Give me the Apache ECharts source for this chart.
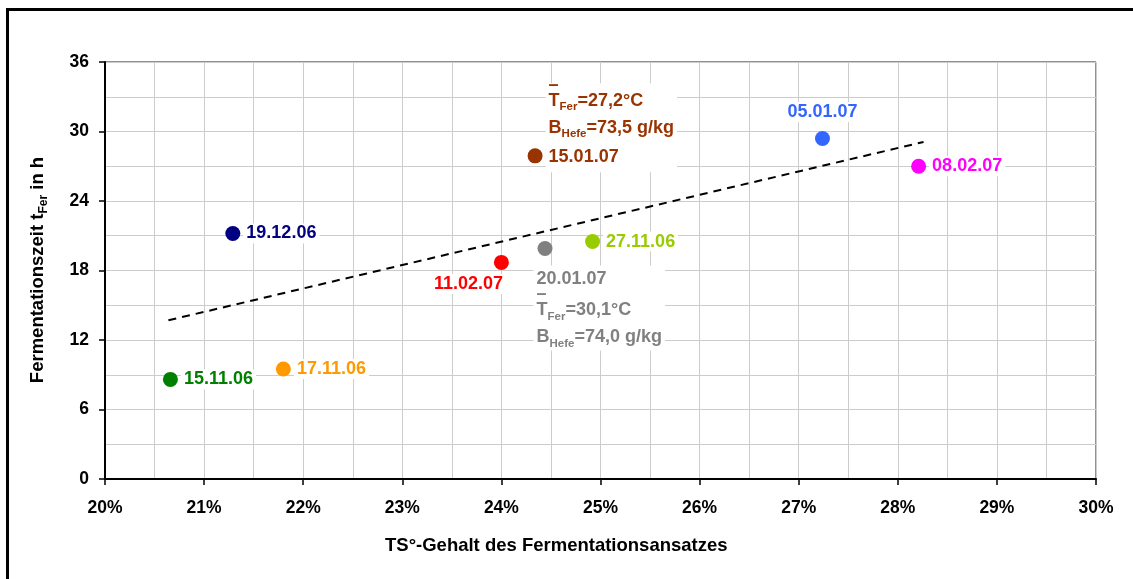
<!DOCTYPE html>
<html>
<head>
<meta charset="UTF-8" />
<title>Fermentationszeit</title>
<style type="text/css">
body,html{margin:0;padding:0;border:0;width:100%;height:100%;overflow:hidden;background:#fff;}
</style>
<script src="https://cdn.jsdelivr.net/npm/echarts@6/dist/echarts.min.js"></script>
</head>
<body>
<div id="chartContainer" style="width:1133px;height:579px;"></div>
<script type="text/javascript">
// Versuchsdatum, TS-Gehalt (%), Fermentationszeit (h)
var dates  = ['15.11.06','17.11.06','19.12.06','11.02.07','20.01.07','27.11.06','15.01.07','05.01.07','08.02.07'];
var tsVals = [20.66, 21.80, 21.29, 24.00, 24.44, 24.92, 24.34, 27.24, 28.21];
var tFer   = [8.6, 9.5, 21.2, 18.7, 19.9, 20.5, 27.9, 29.4, 27.0];
var colors = ['#008000','#FF9900','#000080','#FF0000','#808080','#99CC00','#993300','#3366FF','#FF00FF'];
// Zusatzangaben fuer zwei Versuche: mittlere Temperatur, Hefemenge
var noteDates = ['15.01.07','20.01.07'];
var noteTemp  = ['27,2','30,1'];
var noteHefe  = ['73,5','74,0'];
// lineare Trendlinie (Endpunkte)
var trendX = [20.64, 28.26];
var trendY = [13.7, 29.1];
var xTicks = [20, 30, 1];
var yTicks = [0, 36, 6];

var FONT = 'Liberation Sans';

var richStyles = function(c){
    return {
        a:  {color:c, fontSize:18, fontWeight:'bold', fontFamily:FONT, lineHeight:27},
        d:  {color:c, fontSize:18, fontWeight:'bold', fontFamily:FONT, lineHeight:31},
        s:  {color:c, fontSize:11.5, fontWeight:'bold', fontFamily:FONT, lineHeight:27, verticalAlign:'bottom', padding:[0,0,1,0]},
        // Querstrich ueber dem T (Mittelwert)
        ov: {color:c, fontSize:18, fontWeight:'bold', fontFamily:FONT, lineHeight:4}
    };
};

function noteText(i){
    return '{ov|\u2013}\n{a|T}{s|Fer}{a|=' + noteTemp[i] + '\u00B0C}\n{a|B}{s|Hefe}{a|=' + noteHefe[i] + ' g/kg}';
}

function labelFor(d, c){
    var base = {show:true, color:c, fontSize:18, fontWeight:'bold', fontFamily:FONT,
                backgroundColor:'#fff', padding:[1,3], formatter:d};
    var ni = noteDates.indexOf(d);
    if(d == '05.01.07'){ base.position = 'top'; base.distance = 9; }
    else if(d == '11.02.07'){ base.position = [-63, 19]; base.align = 'left'; base.verticalAlign = 'top'; }
    else if(ni == 1){
        base.position = [-4, 24.5]; base.align = 'left'; base.verticalAlign = 'top';
        base.formatter = '{a|' + d + '}\n' + noteText(ni);
        base.rich = richStyles(c); base.padding = [0,3];
    }
    else if(ni == 0){
        base.position = [18, 24]; base.align = 'left'; base.verticalAlign = 'bottom';
        base.formatter = noteText(ni) + '\n{d|' + d + '}';
        base.rich = richStyles(c); base.padding = [0,3];
    }
    else { base.position = 'right'; base.distance = 3; }
    return base;
}

var points = [];
for(var i = 0; i < dates.length; i++){
    points.push({
        value: [tsVals[i], tFer[i]],
        itemStyle: {color: colors[i], opacity: 1},
        label: labelFor(dates[i], colors[i])
    });
}

var axisText = {color:'#000', fontSize:17.5, fontWeight:'bold', fontFamily:FONT};

var option = {
    animation: false,
    backgroundColor: '#fff',
    grid: {left:105, right:37, top:62, bottom:100, show:true, borderColor:'#222', borderWidth:1},
    xAxis: {
        type:'value', min:xTicks[0], max:xTicks[1], interval:xTicks[2],
        axisLine:{show:true, onZero:false, lineStyle:{color:'#000', width:2}},
        axisTick:{show:true, length:6, inside:false, lineStyle:{color:'#000', width:1.5}},
        axisLabel:Object.assign({margin:20, formatter:function(v){ return v + '%'; }}, axisText),
        splitLine:{show:true, lineStyle:{color:'#cccccc', width:1}},
        minorTick:{show:false, splitNumber:2},
        minorSplitLine:{show:true, lineStyle:{color:'#cccccc', width:1}}
    },
    yAxis: {
        type:'value', min:yTicks[0], max:yTicks[1], interval:yTicks[2],
        axisLine:{show:true, onZero:false, lineStyle:{color:'#000', width:2}},
        axisTick:{show:true, length:6, inside:false, lineStyle:{color:'#000', width:1.5}},
        axisLabel:Object.assign({margin:16}, axisText),
        splitLine:{show:true, lineStyle:{color:'#cccccc', width:1}},
        minorTick:{show:false, splitNumber:2},
        minorSplitLine:{show:true, lineStyle:{color:'#cccccc', width:1}}
    },
    graphic: [
        {type:'rect', shape:{x:7.5, y:9.5, width:1140, height:600}, style:{fill:'none', stroke:'#000', lineWidth:3}, z:-1},
        {type:'text', left:385, top:536, style:{text:'TS\u00B0-Gehalt des Fermentationsansatzes', fill:'#000',
            font:'bold 18.5px "Liberation Sans"'}},
        {type:'text', x:38, y:270, rotation:Math.PI/2, style:{
            text:'{a|Fermentationszeit t}{s|Fer}{a| in h}', align:'center', verticalAlign:'middle',
            rich:{
                a:{fill:'#000', fontSize:18.5, fontWeight:'bold', fontFamily:FONT, lineHeight:24},
                s:{fill:'#000', fontSize:12, fontWeight:'bold', fontFamily:FONT, lineHeight:24, verticalAlign:'bottom'}
            }}}
    ],
    series: [
        {
            type:'line', data:[[trendX[0], trendY[0]], [trendX[1], trendY[1]]],
            symbol:'none', lineStyle:{color:'#000', width:2, type:[8,6]}, z:2, silent:true
        },
        {
            type:'scatter', data:points, symbol:'circle', symbolSize:15, z:3,
            itemStyle:{opacity:1}
        }
    ]
};

var chart = echarts.init(document.getElementById('chartContainer'));
chart.setOption(option);
</script>
</body>
</html>
